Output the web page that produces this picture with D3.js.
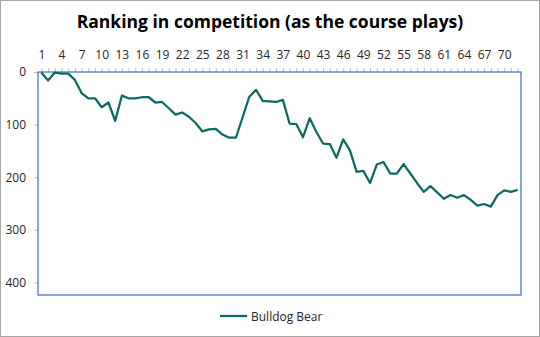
<!DOCTYPE html>
<html>
<head>
<meta charset="utf-8">
<script src="https://cdn.jsdelivr.net/npm/d3@7"></script>
<style>
  html, body { margin: 0; padding: 0; background: #fff; }
  svg { display: block; }
  text { font-family: "Open Sans", "Noto Sans", sans-serif; }
</style>
</head>
<body>
<div id="chart"></div>
<script>
const title = "Ranking in competition (as the course plays)";
const seriesName = "Bulldog Bear";
const categories = [1,2,3,4,5,6,7,8,9,10,11,12,13,14,15,16,17,18,19,20,21,22,23,24,25,26,27,28,29,30,31,32,33,34,35,36,37,38,39,40,41,42,43,44,45,46,47,48,49,50,51,52,53,54,55,56,57,58,59,60,61,62,63,64,65,66,67,68,69,70,71,72];
const ranks = [1,16,1,3,3,15,40,50,50,67,58,93,45,50,50,48,48,58,57,69,81,77,85,97,113,109,108,119,125,125,
  86,47,34,55,56,57,53,98,99,124,88,114,136,137,163,128,149,190,188,211,176,171,193,193,175,193,211,228,
  217,229,241,234,239,234,243,254,251,256,234,225,228,224];
const xTickLabels = [1,4,7,10,13,16,19,22,25,28,31,34,37,40,43,46,49,52,55,58,61,64,67,70];
const yTicks = [0,100,200,300,400];
const yMax = 424;

const W = 540, H = 337;
const plot = {left: 38, right: 521, top: 72, bottom: 295};

const svg = d3.select("#chart").append("svg").attr("width", W).attr("height", H);

// outer border
svg.append("rect").attr("x", 0.5).attr("y", 0.5).attr("width", W - 1).attr("height", H - 1)
  .attr("fill", "#fff").attr("stroke", "#a6a6a6").attr("stroke-width", 1);

// title
svg.append("text").attr("x", 270).attr("y", 28).attr("text-anchor", "middle")
  .attr("font-size", 17.5).attr("font-weight", "bold").attr("fill", "#000").text(title);

const x = d3.scalePoint().domain(categories).range([plot.left, plot.right]).padding(0.5);
const y = d3.scaleLinear().domain([0, yMax]).range([plot.top, plot.bottom]);

// x axis at top
const xAxis = d3.axisTop(x).tickValues(categories).tickSize(4).tickFormat(d => xTickLabels.includes(d) ? d : "");
const gx = svg.append("g").attr("transform", `translate(0,${plot.top})`).call(xAxis);
gx.select(".domain").remove();
gx.selectAll(".tick line").attr("stroke", "#bfbfbf");
gx.selectAll(".tick text").attr("font-size", 12).attr("fill", "#262626").attr("dy", "-0.35em").attr("y", -9);

// y axis
const yAxis = d3.axisLeft(y).tickValues(yTicks).tickSize(4).tickPadding(8);
const gy = svg.append("g").attr("transform", `translate(${plot.left},0)`).call(yAxis);
gy.select(".domain").remove();
gy.selectAll(".tick line").attr("stroke", "#bfbfbf");
gy.selectAll(".tick text").attr("font-size", 12).attr("fill", "#262626");

// plot border
svg.append("rect").attr("x", plot.left).attr("y", plot.top)
  .attr("width", plot.right - plot.left).attr("height", plot.bottom - plot.top)
  .attr("fill", "none").attr("stroke", "#4472c4").attr("stroke-width", 1.25);

// line
const line = d3.line().x((d, i) => x(categories[i])).y(d => y(d));
svg.append("path").datum(ranks).attr("d", line)
  .attr("fill", "none").attr("stroke", "#0b6b63").attr("stroke-width", 2.25)
  .attr("stroke-linejoin", "round");

// legend
const lg = svg.append("g");
lg.append("line").attr("x1", 220).attr("x2", 247).attr("y1", 316).attr("y2", 316)
  .attr("stroke", "#0b6b63").attr("stroke-width", 2.25);
lg.append("text").attr("x", 251).attr("y", 320.5).attr("font-size", 12).attr("fill", "#262626").text(seriesName);
</script>
</body>
</html>
